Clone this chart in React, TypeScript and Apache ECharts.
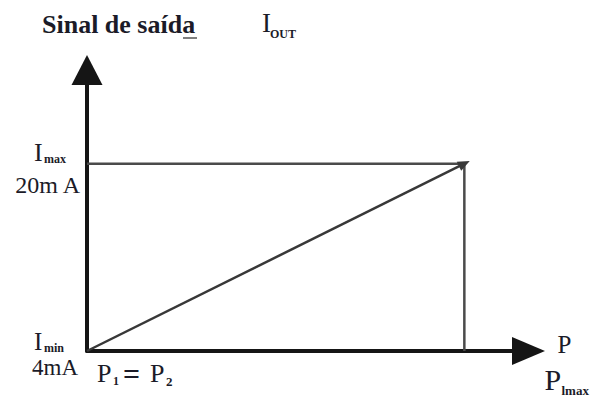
import React, { useEffect, useRef } from "react";
import * as echarts from "echarts";

// Signal range (mA) and pressure range (% of span, P1=P2 -> Pmax)
const pressureStart = 0;
const pressureMax = 100;
const currentMin = 4;
const currentMax = 20;
const axisXMax = 117;
const axisYMax = 28;

const diagonalPoints: number[][] = [
  [pressureStart, currentMin],
  [pressureMax, currentMax],
];
const framePoints: number[][] = [
  [pressureStart, currentMax],
  [pressureMax, currentMax],
  [pressureMax, currentMin],
];

const titleText = "Sinal de saída";
const outLabel = ["I", "OUT"];
const maxLabel = ["I", "max"];
const minLabel = ["I", "min"];
const maxValueText = "20m A";
const minValueText = "4mA";
const startLabel = ["P", "1", "=", "P", "2"];
const axisXLabel = "P";
const pmaxLabel = ["P", "lmax"];

const SERIF = "'Liberation Serif', 'Times New Roman', serif";
const INK = "#1b1b28";

function txt(text: string, x: number, y: number, size: number, opts: any = {}) {
  return {
    type: "text",
    x,
    y,
    silent: true,
    z: 100,
    style: {
      text,
      fill: opts.fill || INK,
      font: `${opts.bold ? "bold " : ""}${size}px ${SERIF}`,
      align: opts.align || "left",
      verticalAlign: "middle",
    },
  };
}

export default function App() {
  const ref = useRef<HTMLDivElement>(null);

  useEffect(() => {
    const chart = echarts.init(ref.current!, null, {
      renderer: "svg",
      width: 603,
      height: 398,
    });
    const axisCommon = {
      type: "value",
      splitLine: { show: false },
      axisTick: { show: false },
      axisLabel: { show: false },
    };
    chart.setOption({
      animation: false,
      backgroundColor: "#ffffff",
      grid: { left: 87, right: 74.5, top: 70, bottom: 47 },
      xAxis: {
        ...axisCommon,
        min: pressureStart,
        max: axisXMax,
        axisLine: {
          show: true,
          onZero: false,
          symbol: ["none", "triangle"],
          symbolSize: [28, 33],
          lineStyle: { color: "#151515", width: 4 },
        },
      },
      yAxis: {
        ...axisCommon,
        min: currentMin,
        max: axisYMax,
        axisLine: {
          show: true,
          onZero: false,
          symbol: ["none", "triangle"],
          symbolSize: [31, 30],
          lineStyle: { color: "#151515", width: 4 },
        },
      },
      series: [
        {
          type: "line",
          data: framePoints,
          symbol: "none",
          silent: true,
          lineStyle: { color: "#4a4a4a", width: 2.5 },
        },
        {
          type: "line",
          data: [],
          symbol: "none",
          silent: true,
          markLine: {
            silent: true,
            animation: false,
            symbol: ["none", "triangle"],
            symbolSize: [10, 12],
            label: { show: false },
            lineStyle: { color: "#383838", width: 2.5, type: "solid" },
            data: [
              [
                { coord: diagonalPoints[0] },
                { coord: diagonalPoints[1] },
              ],
            ],
          },
        },
      ],
    });

    const O = chart.convertToPixel({ gridIndex: 0 }, [pressureStart, currentMin]) as number[];
    const T = chart.convertToPixel({ gridIndex: 0 }, [pressureStart, currentMax]) as number[];
    const E = chart.convertToPixel({ gridIndex: 0 }, [axisXMax, currentMin]) as number[];

    const graphic: any[] = [
      txt(titleText, 42, 24, 26, { bold: true }),
      { type: "line", silent: true, shape: { x1: 183, y1: 38, x2: 197, y2: 38 }, style: { stroke: "#555", lineWidth: 1.5 } },
      txt(outLabel[0], 262, 22.5, 27),
      txt(outLabel[1], 270, 34, 12, { bold: true }),
      // I max / 20 mA
      txt(maxLabel[0], T[0] - 53, T[1] - 11, 26),
      txt(maxLabel[1], T[0] - 43, T[1] - 5, 12, { bold: true }),
      txt(maxValueText, T[0] - 7, T[1] + 21, 24, { align: "right" }),
      // I min / 4 mA
      txt(minLabel[0], O[0] - 53, O[1] - 9.5, 25),
      txt(minLabel[1], O[0] - 43, O[1] - 3, 12, { bold: true }),
      txt(minValueText, O[0] - 9, O[1] + 16, 23, { align: "right" }),
      // P1 = P2
      txt(startLabel[0], O[0] + 10, O[1] + 22.5, 26),
      txt(startLabel[1], O[0] + 26, O[1] + 30, 12, { bold: true }),
      txt(startLabel[2], O[0] + 36, O[1] + 22, 30, { bold: true }),
      txt(startLabel[3], O[0] + 63, O[1] + 22.5, 26),
      txt(startLabel[4], O[0] + 79, O[1] + 30, 13, { bold: true }),
      // P / P lmax
      txt(axisXLabel, E[0] + 29, O[1] - 7, 25),
      txt(pmaxLabel[0], E[0] + 16, O[1] + 28, 30),
      txt(pmaxLabel[1], E[0] + 33, O[1] + 39, 13, { bold: true }),
    ];
    chart.setOption({ graphic });

    return () => chart.dispose();
  }, []);

  return (
    <div
      ref={ref}
      style={{ position: "absolute", left: 0, top: 0, width: 603, height: 398, background: "#fff" }}
    />
  );
}
